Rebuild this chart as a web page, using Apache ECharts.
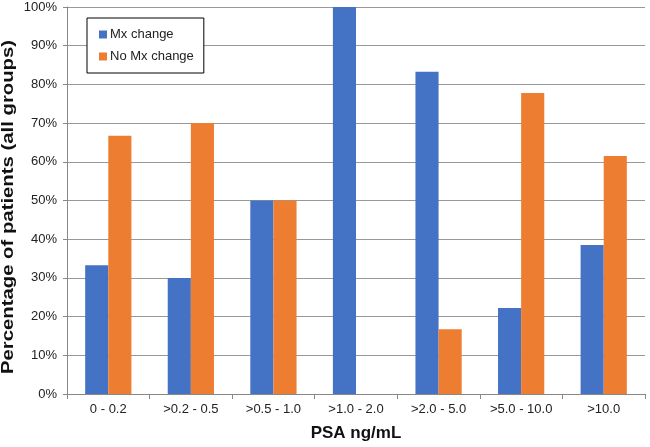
<!DOCTYPE html>
<html><head><meta charset="utf-8">
<script src="https://cdn.jsdelivr.net/npm/echarts@6/dist/echarts.min.js"></script>
<style>html,body{margin:0;padding:0;background:#fff}#c{width:650px;height:447px}</style>
</head><body><div id="c"></div>
<script>
const categories = ['0 - 0.2', '>0.2 - 0.5', '>0.5 - 1.0', '>1.0 - 2.0', '>2.0 - 5.0', '>5.0 - 10.0', '>10.0'];
const mxChange = [33.3, 30.0, 50.0, 100.0, 83.3, 22.2, 38.5];
const noMxChange = [66.7, 70.0, 50.0, 0, 16.7, 77.8, 61.5];
const seriesNames = ['Mx change', 'No Mx change'];
const yTicks = [0, 10, 20, 30, 40, 50, 60, 70, 80, 90, 100];
const yAxisTitle = 'Percentage of patients (all groups)';
const xAxisTitle = 'PSA ng/mL';

const chart = echarts.init(document.getElementById('c'), null, {renderer: 'canvas'});
const font = 'Liberation Sans, Arial, sans-serif';
chart.setOption({
  animation: false,
  backgroundColor: '#fff',
  grid: {left: 67, right: 5, top: 7, bottom: 49, containLabel: false},
  legend: {
    orient: 'vertical', left: 87, top: 18,
    data: seriesNames,
    icon: 'rect', itemWidth: 8, itemHeight: 8, itemGap: 9,
    borderColor: '#000', borderWidth: 1,
    padding: [10, 10, 10, 12],
    backgroundColor: '#fff',
    textStyle: {fontFamily: font, fontSize: 13, color: '#222', padding: [0, 0, 0, -2]}
  },
  graphic: [{
    type: 'text', x: 9, y: 207, rotation: Math.PI / 2, scaleX: 1.27, scaleY: 1,
    style: {text: yAxisTitle, font: 'bold 16px Liberation Sans, Arial, sans-serif', fill: '#111',
      textAlign: 'center', textVerticalAlign: 'middle'}
  }],
  xAxis: {
    type: 'category', data: categories,
    name: xAxisTitle, nameLocation: 'middle', nameGap: 31,
    nameTextStyle: {fontFamily: font, fontSize: 17, fontWeight: 'bold', color: '#111'},
    axisLine: {lineStyle: {color: '#888', width: 1}},
    axisTick: {show: true, length: 5, alignWithLabel: false, lineStyle: {color: '#888'}},
    axisLabel: {fontFamily: font, fontSize: 13, color: '#222', margin: 9, interval: 0}
  },
  yAxis: {
    type: 'value', min: 0, max: 100, interval: 10,
    axisLine: {show: true, lineStyle: {color: '#888'}},
    axisTick: {show: true, length: 4, lineStyle: {color: '#888'}},
    splitLine: {lineStyle: {color: '#999', width: 1}},
    axisLabel: {fontFamily: font, fontSize: 13, color: '#222', margin: 10,
      formatter: v => yTicks.includes(v) ? v + '%' : ''}
  },
  series: [
    {name: seriesNames[0], type: 'bar', data: mxChange, itemStyle: {color: '#4472C4'}, barGap: '0%', barCategoryGap: '44%'},
    {name: seriesNames[1], type: 'bar', data: noMxChange, itemStyle: {color: '#ED7D31'}, barGap: '0%', barCategoryGap: '44%'}
  ]
});
</script></body></html>
